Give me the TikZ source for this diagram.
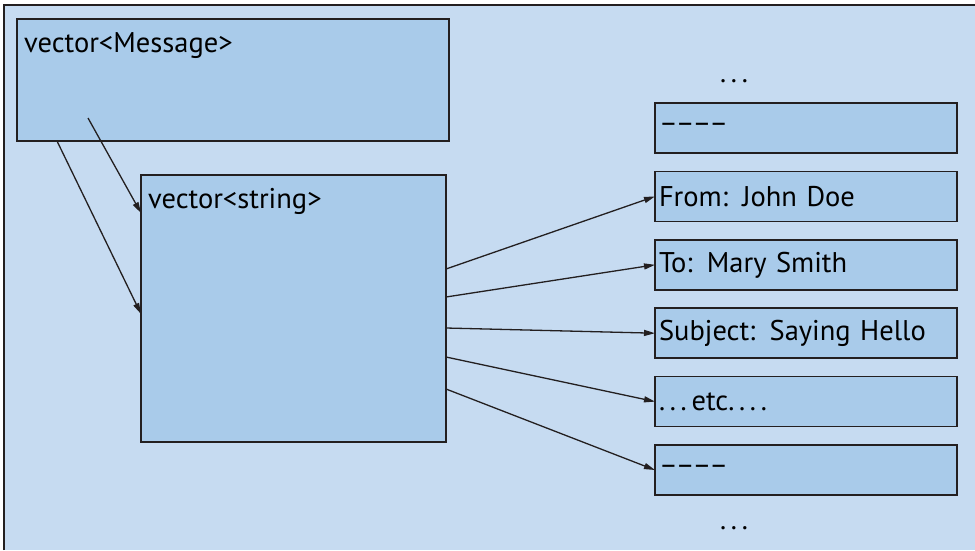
\documentclass[tikz,border=0pt]{standalone}
\usepackage{fontspec}
\setmainfont{PT Sans}
\usetikzlibrary{arrows.meta,positioning,calc}
\definecolor{fondo}{HTML}{C6DBF1}
\definecolor{caja}{HTML}{A9CBEA}
\definecolor{trazo}{HTML}{231F20}
\newcommand{\rayas}{–\kern-2pt–\kern-2pt–\kern-2pt–}

\begin{document}
\begin{tikzpicture}[x=1pt, y=-1pt,
  box/.style={
    draw=trazo, fill=caja, line width=1.6pt,
    inner sep=0pt, outer sep=0pt, anchor=north west
  },
  slot/.style={
    box, minimum width=302pt, minimum height=50pt,
    text width=294pt, align=left, font=\fontsize{28.5}{32}\selectfont
  },
  tag/.style={anchor=north west, inner sep=0pt, xshift=7pt, yshift=-13pt,
    font=\fontsize{28.5}{32}\selectfont},
  arr/.style={-{Triangle[length=11pt,width=6pt]}, line width=1.3pt, color=trazo}
]
  \useasboundingbox (0,0) rectangle (975,550);
  % background panel, its right and bottom sides lie past the edge
  \fill[fondo] (4,5) rectangle (975,550);
  \draw[trazo, line width=1.5pt] (4,550) -- (4,5) -- (975,5);

  \node[box, minimum width=432pt, minimum height=122pt,
    label={[tag]north west:vector<Message>}] (msg) at (17,19) {};
  \node[box, minimum width=305pt, minimum height=267pt,
    label={[tag]north west:vector<string>}] (strv) at (141,175) {};

  \node[slot] (r1) at (655,103) {\rayas};
  \node[slot, below=18.4pt of r1] (r2) {From: John Doe};
  \node[slot, below=18.4pt of r2] (r3) {To: Mary Smith};
  \node[slot, below=18.4pt of r3] (r4) {Subject: Saying Hello};
  \node[slot, below=18.4pt of r4] (r5) {.\,.\,.\,etc.\,.\,.\,.};
  \node[slot, below=18.4pt of r5] (r6) {\rayas};
  \node[font=\fontsize{28.5}{32}\selectfont] (top) at (734,81) {.\,.\,.};
  \node[font=\fontsize{28.5}{32}\selectfont] (bot) at (734,528) {.\,.\,.};

  \draw[arr] ($(msg.north west)+(71,99)$) -- ($(strv.north west)+(0,38)$);
  \draw[arr] ($(msg.south west)+(40,0)$) -- ($(strv.north west)+(0,139)$);

  \draw[arr] ($(strv.north east)+(0,94)$)  -- (r2.west);
  \draw[arr] ($(strv.north east)+(0,122)$) -- (r3.west);
  \draw[arr] ($(strv.north east)+(0,153)$) -- (r4.west);
  \draw[arr] ($(strv.north east)+(0,182)$) -- (r5.west);
  \draw[arr] ($(strv.north east)+(0,214)$) -- (r6.west);
\end{tikzpicture}
\end{document}
